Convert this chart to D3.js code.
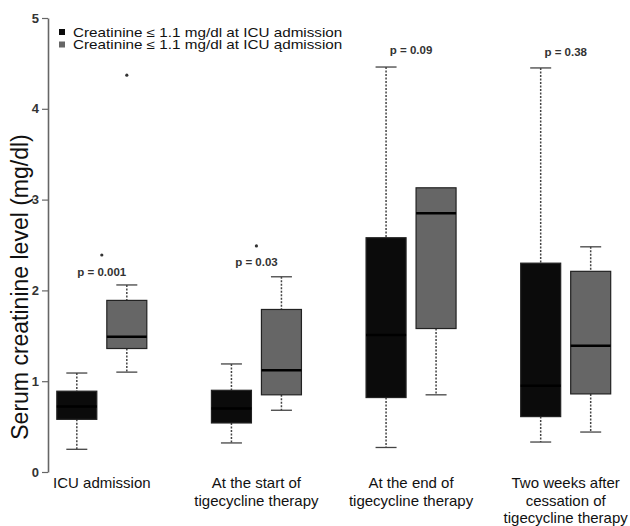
<!DOCTYPE html>
<html>
<head>
<meta charset="utf-8">
<script src="https://cdn.jsdelivr.net/npm/d3@7"></script>
<style>
  body { margin: 0; background: #fff; }
  text { font-family: "Liberation Sans", Arial, sans-serif; }
</style>
</head>
<body>
<script>
// values (mg/dl)
const categories = ["ICU admission", "At the start of|tigecycline therapy", "At the end of|tigecycline therapy", "Two weeks after|cessation of|tigecycline therapy"];
const series = ["low", "high"];
const legendLabels = ["Creatinine \u2264 1.1 mg/dl at ICU admission", "Creatinine \u2264 1.1 mg/dl at ICU \u0105dmission"];
const seriesColors = ["#0b0b0b", "#666666"];

// [whisker low, q1, median, q3, whisker high]
const lowStats = [
    [0.25, 0.58, 0.72, 0.89, 1.09],
    [0.32, 0.54, 0.70, 0.90, 1.19],
    [0.27, 0.82, 1.51, 2.58, 4.46],
    [0.33, 0.61, 0.95, 2.30, 4.45]
];
const highStats = [
    [1.10, 1.36, 1.49, 1.89, 2.06],
    [0.68, 0.85, 1.12, 1.79, 2.15],
    [0.85, 1.58, 2.85, 3.13, 3.13],
    [0.44, 0.86, 1.39, 2.21, 2.48]
];
const lowOutliers = [[], [], [], []];
const highOutliers = [[4.37], [], [], []];

const pLabels = ["p = 0.001", "p = 0.03", "p = 0.09", "p = 0.38"];
const pLabelY = [2.2, 2.31, 4.65, 4.63];
const sigMarkY = [2.39, 2.49, null, null];
const yTicks = [0, 1, 2, 3, 4, 5];

const width = 630;
const height = 526;

const svg = d3.select("body").append("svg")
    .attr("width", width)
    .attr("height", height);

const y = d3.scaleLinear().domain([0, 5]).range([472, 18]);
const x = d3.scaleBand().domain(categories).range([24.5, 643]);
const xs = d3.scaleBand().domain(series)
    .range([x.bandwidth() / 2 - 50, x.bandwidth() / 2 + 50]);

const boxW = 40;
const capW = 21;

// y axis
const yAxis = d3.axisLeft(y).tickValues(yTicks).tickFormat(d3.format("d"))
    .tickSize(6).tickSizeOuter(0).tickPadding(3);
const gy = svg.append("g")
    .attr("transform", "translate(48,0)")
    .call(yAxis);
gy.select(".domain").attr("stroke", "#666").attr("stroke-width", 1.6);
gy.selectAll(".tick line").attr("stroke", "#666").attr("stroke-width", 1.2);
gy.selectAll(".tick text").attr("font-size", 13).attr("font-weight", "bold").attr("fill", "#333");

svg.append("text")
    .attr("transform", `translate(28,${(y(0) + y(5)) / 2 + 42}) rotate(-90)`)
    .attr("text-anchor", "middle")
    .attr("font-size", 23)
    .attr("fill", "#111")
    .text("Serum creatinine level (mg/dl)");

// boxes
const boxes = [];
categories.forEach((c, i) => {
    boxes.push({ cat: c, s: "low", st: lowStats[i], out: lowOutliers[i], color: seriesColors[0] });
    boxes.push({ cat: c, s: "high", st: highStats[i], out: highOutliers[i], color: seriesColors[1] });
});

const g = svg.selectAll("g.box")
    .data(boxes)
    .enter().append("g")
    .attr("class", "box")
    .attr("transform", d => `translate(${x(d.cat) + xs(d.s) + xs.bandwidth() / 2},0)`);

// whiskers (dotted)
g.append("line")
    .attr("y1", d => y(d.st[4])).attr("y2", d => y(d.st[3]))
    .attr("stroke", "#444").attr("stroke-width", 1.5).attr("stroke-dasharray", "2,1.5");
g.append("line")
    .attr("y1", d => y(d.st[1])).attr("y2", d => y(d.st[0]))
    .attr("stroke", "#444").attr("stroke-width", 1.5).attr("stroke-dasharray", "2,1.5");
// caps
g.filter(d => d.st[4] > d.st[3]).append("line")
    .attr("x1", -capW / 2).attr("x2", capW / 2)
    .attr("y1", d => y(d.st[4])).attr("y2", d => y(d.st[4]))
    .attr("stroke", "#444").attr("stroke-width", 1.3);
g.append("line")
    .attr("x1", -capW / 2).attr("x2", capW / 2)
    .attr("y1", d => y(d.st[0])).attr("y2", d => y(d.st[0]))
    .attr("stroke", "#444").attr("stroke-width", 1.3);

g.append("rect")
    .attr("x", -boxW / 2)
    .attr("width", boxW)
    .attr("y", d => y(d.st[3]))
    .attr("height", d => y(d.st[1]) - y(d.st[3]))
    .attr("fill", d => d.color)
    .attr("stroke", "#222")
    .attr("stroke-width", 1.2);

g.append("line")
    .attr("x1", -boxW / 2).attr("x2", boxW / 2)
    .attr("y1", d => y(d.st[2])).attr("y2", d => y(d.st[2]))
    .attr("stroke", "#000").attr("stroke-width", 2.5);

g.selectAll("circle.out")
    .data(d => d.out)
    .enter().append("circle")
    .attr("cx", 0).attr("cy", v => y(v)).attr("r", 1.6)
    .attr("fill", "#333");

// p values and significance marks
svg.selectAll("text.p")
    .data(categories)
    .enter().append("text")
    .attr("class", "p")
    .attr("x", c => x(c) + x.bandwidth() / 2)
    .attr("y", (c, i) => y(pLabelY[i]) + 4)
    .attr("text-anchor", "middle")
    .attr("font-size", 11.5)
    .attr("font-weight", "bold")
    .attr("fill", "#333")
    .text((c, i) => pLabels[i]);

svg.selectAll("circle.sig")
    .data(categories.filter((c, i) => sigMarkY[i] !== null))
    .enter().append("circle")
    .attr("cx", c => x(c) + x.bandwidth() / 2)
    .attr("cy", c => y(sigMarkY[categories.indexOf(c)]))
    .attr("r", 1.6)
    .attr("fill", "#333");

// category labels
const cl = svg.selectAll("text.cat")
    .data(categories)
    .enter().append("text")
    .attr("class", "cat")
    .attr("text-anchor", "middle")
    .attr("font-size", 15)
    .attr("fill", "#111");
cl.selectAll("tspan")
    .data(c => c.split("|").map(t => ({ t, c })))
    .enter().append("tspan")
    .attr("x", d => x(d.c) + x.bandwidth() / 2)
    .attr("y", (d, i) => 488 + i * 17.5)
    .text(d => d.t);

// legend
const lg = svg.selectAll("g.legend")
    .data(legendLabels)
    .enter().append("g")
    .attr("transform", (d, i) => `translate(59,${32 + i * 12.5})`);
lg.append("rect")
    .attr("x", 0).attr("y", -3).attr("width", 6).attr("height", 6)
    .attr("fill", (d, i) => seriesColors[i]);
lg.append("text")
    .attr("transform", "translate(14,4.5) scale(1.22,1)")
    .attr("font-size", 12.5)
    .attr("fill", "#111")
    .text(d => d);
</script>
</body>
</html>
